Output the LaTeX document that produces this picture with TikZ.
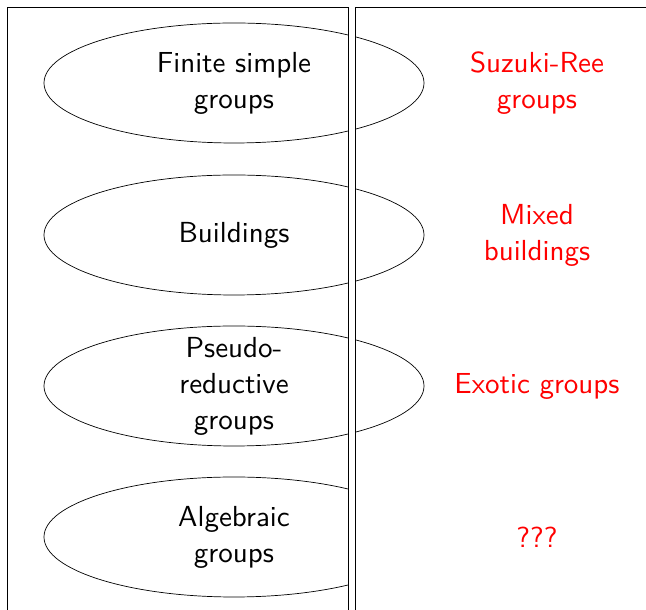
\documentclass[tikz,border=0pt]{standalone}
\usepackage{fontspec}
\newfontfamily\lmsten{lmsans10-regular}[Extension=.otf]
\usetikzlibrary{shapes.geometric}
\tikzset{
  x=1pt, y=1pt,
  oval/.style={ellipse, draw, line width=0.7pt, minimum width=380pt, minimum height=120pt, inner sep=0pt},
  blacktxt/.style={align=center, font=\lmsten\fontsize{29}{36}\selectfont, inner sep=0pt},
  redtxt/.style={blacktxt, text=red},
  frame/.style={line width=0.7pt}
}
\begin{document}
\begin{tikzpicture}
\useasboundingbox (0,0) rectangle (646,610);
% ellipses
\node[oval] (e1) at (234,527) {};
\node[oval] (e2) at (234,375) {};
\node[oval] (e3) at (234,224) {};
\begin{scope}
\clip (0,0) rectangle (348,610);
\node[oval] (e4) at (234,73) {};
\end{scope}
% gap between the two panels
\fill[white] (348.3,-5) rectangle (354.7,602.5);
% panels
\draw[frame] (7.5,-5) -- (7.5,602.5) -- (348,602.5) -- (348,-5);
\draw[frame] (651,602.5) -- (355,602.5) -- (355,-5);
% left texts
\node[blacktxt] (t1) at (e1) {Finite simple\\groups};
\node[blacktxt] (t2) at (e2) {Buildings};
\node[blacktxt] (t3) at (e3) {Pseudo-\\reductive\\groups};
\node[blacktxt] (t4) at (e4) {Algebraic\\groups};
% right texts
\node[redtxt] (r1) at (537,527) {Suzuki-Ree\\groups};
\node[redtxt] (r2) at (537,375) {Mixed\\buildings};
\node[redtxt] (r3) at (537,224) {Exotic groups};
\node[redtxt] (r4) at (537,73) {???};
\end{tikzpicture}
\end{document}
